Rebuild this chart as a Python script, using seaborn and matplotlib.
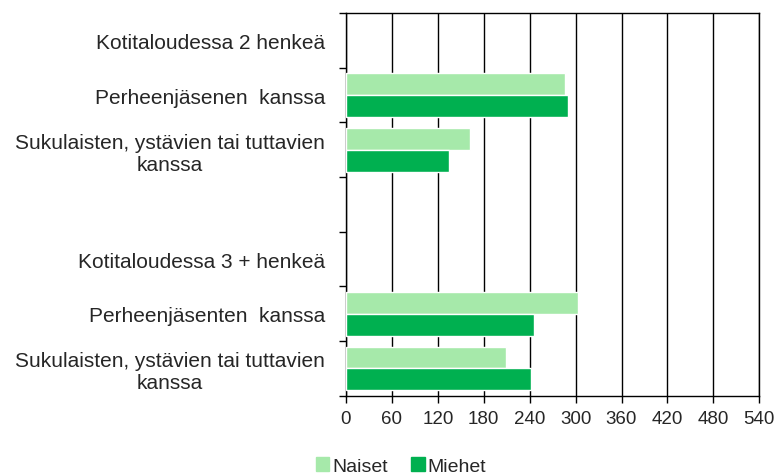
import numpy as np
import pandas as pd
import matplotlib.pyplot as plt
from matplotlib.patches import Patch
import seaborn as sns

# Rivit (tyhjä rivi ryhmien välissä)
rivit = ["k2", "p2", "s2", "tyhja", "k3", "p3", "s3"]
rivi_nimet = [
    "Kotitaloudessa 2 henkeä",
    "Perheenjäsenen  kanssa",
    "Sukulaisten, ystävien tai tuttavien\nkanssa",
    "",
    "Kotitaloudessa 3 + henkeä",
    "Perheenjäsenten  kanssa",
    "Sukulaisten, ystävien tai tuttavien\nkanssa",
]
naiset = [np.nan, 286, 162, np.nan, np.nan, 303, 209]
miehet = [np.nan, 290, 135, np.nan, np.nan, 246, 242]
sarjat = ["Naiset", "Miehet"]
varit = ["#A6E9AA", "#00B050"]
x_ticks = list(range(0, 541, 60))

df = pd.DataFrame({"rivi": rivit, "Naiset": naiset, "Miehet": miehet})
df = df.melt(id_vars="rivi", var_name="sukupuoli", value_name="arvo").dropna()

sns.set_style("white")
plt.rcParams['font.family'] = ['Liberation Sans', 'DejaVu Sans']

fig = plt.figure(figsize=(7.74, 4.77), dpi=100)
ax = fig.add_axes([0.447, 0.1683, 0.534, 0.8023])

sns.barplot(data=df, x="arvo", y="rivi", hue="sukupuoli", order=rivit,
            hue_order=sarjat, palette=varit, orient="h", width=0.8,
            saturation=1, legend=False, ax=ax, zorder=3)

ax.set_xlim(0, 540)
ax.set_ylim(6.5, -0.5)
ax.set_xticks(x_ticks)
ax.set_xticklabels([str(v) for v in x_ticks], fontsize=13.5)
ax.set_yticks(range(len(rivit)))
ax.set_yticklabels(rivi_nimet, fontsize=15, multialignment='center')
ax.set_yticks(np.arange(-0.5, len(rivit), 1), minor=True)
ax.tick_params(axis='y', which='major', length=0, pad=15)
ax.tick_params(axis='y', which='minor', length=5, width=1, color='black', left=True)
ax.tick_params(axis='x', length=5, width=1, color='black', bottom=True, pad=5)
ax.set_xlabel('')
ax.set_ylabel('')

ax.grid(axis='x', color='black', lw=1, zorder=0)
ax.set_axisbelow(True)
for s in ax.spines.values():
    s.set_visible(True)
    s.set_color('black')
    s.set_linewidth(1)

handles = [Patch(color=c, label=l) for c, l in zip(varit, sarjat)]
fig.legend(handles=handles, loc='center', bbox_to_anchor=(401 / 774, 1 - 467 / 477),
           ncol=2, frameon=False, fontsize=14, handlelength=0.7, handleheight=0.7,
           handletextpad=0.15, columnspacing=1.2)

fig.savefig('out.png', dpi=100)
